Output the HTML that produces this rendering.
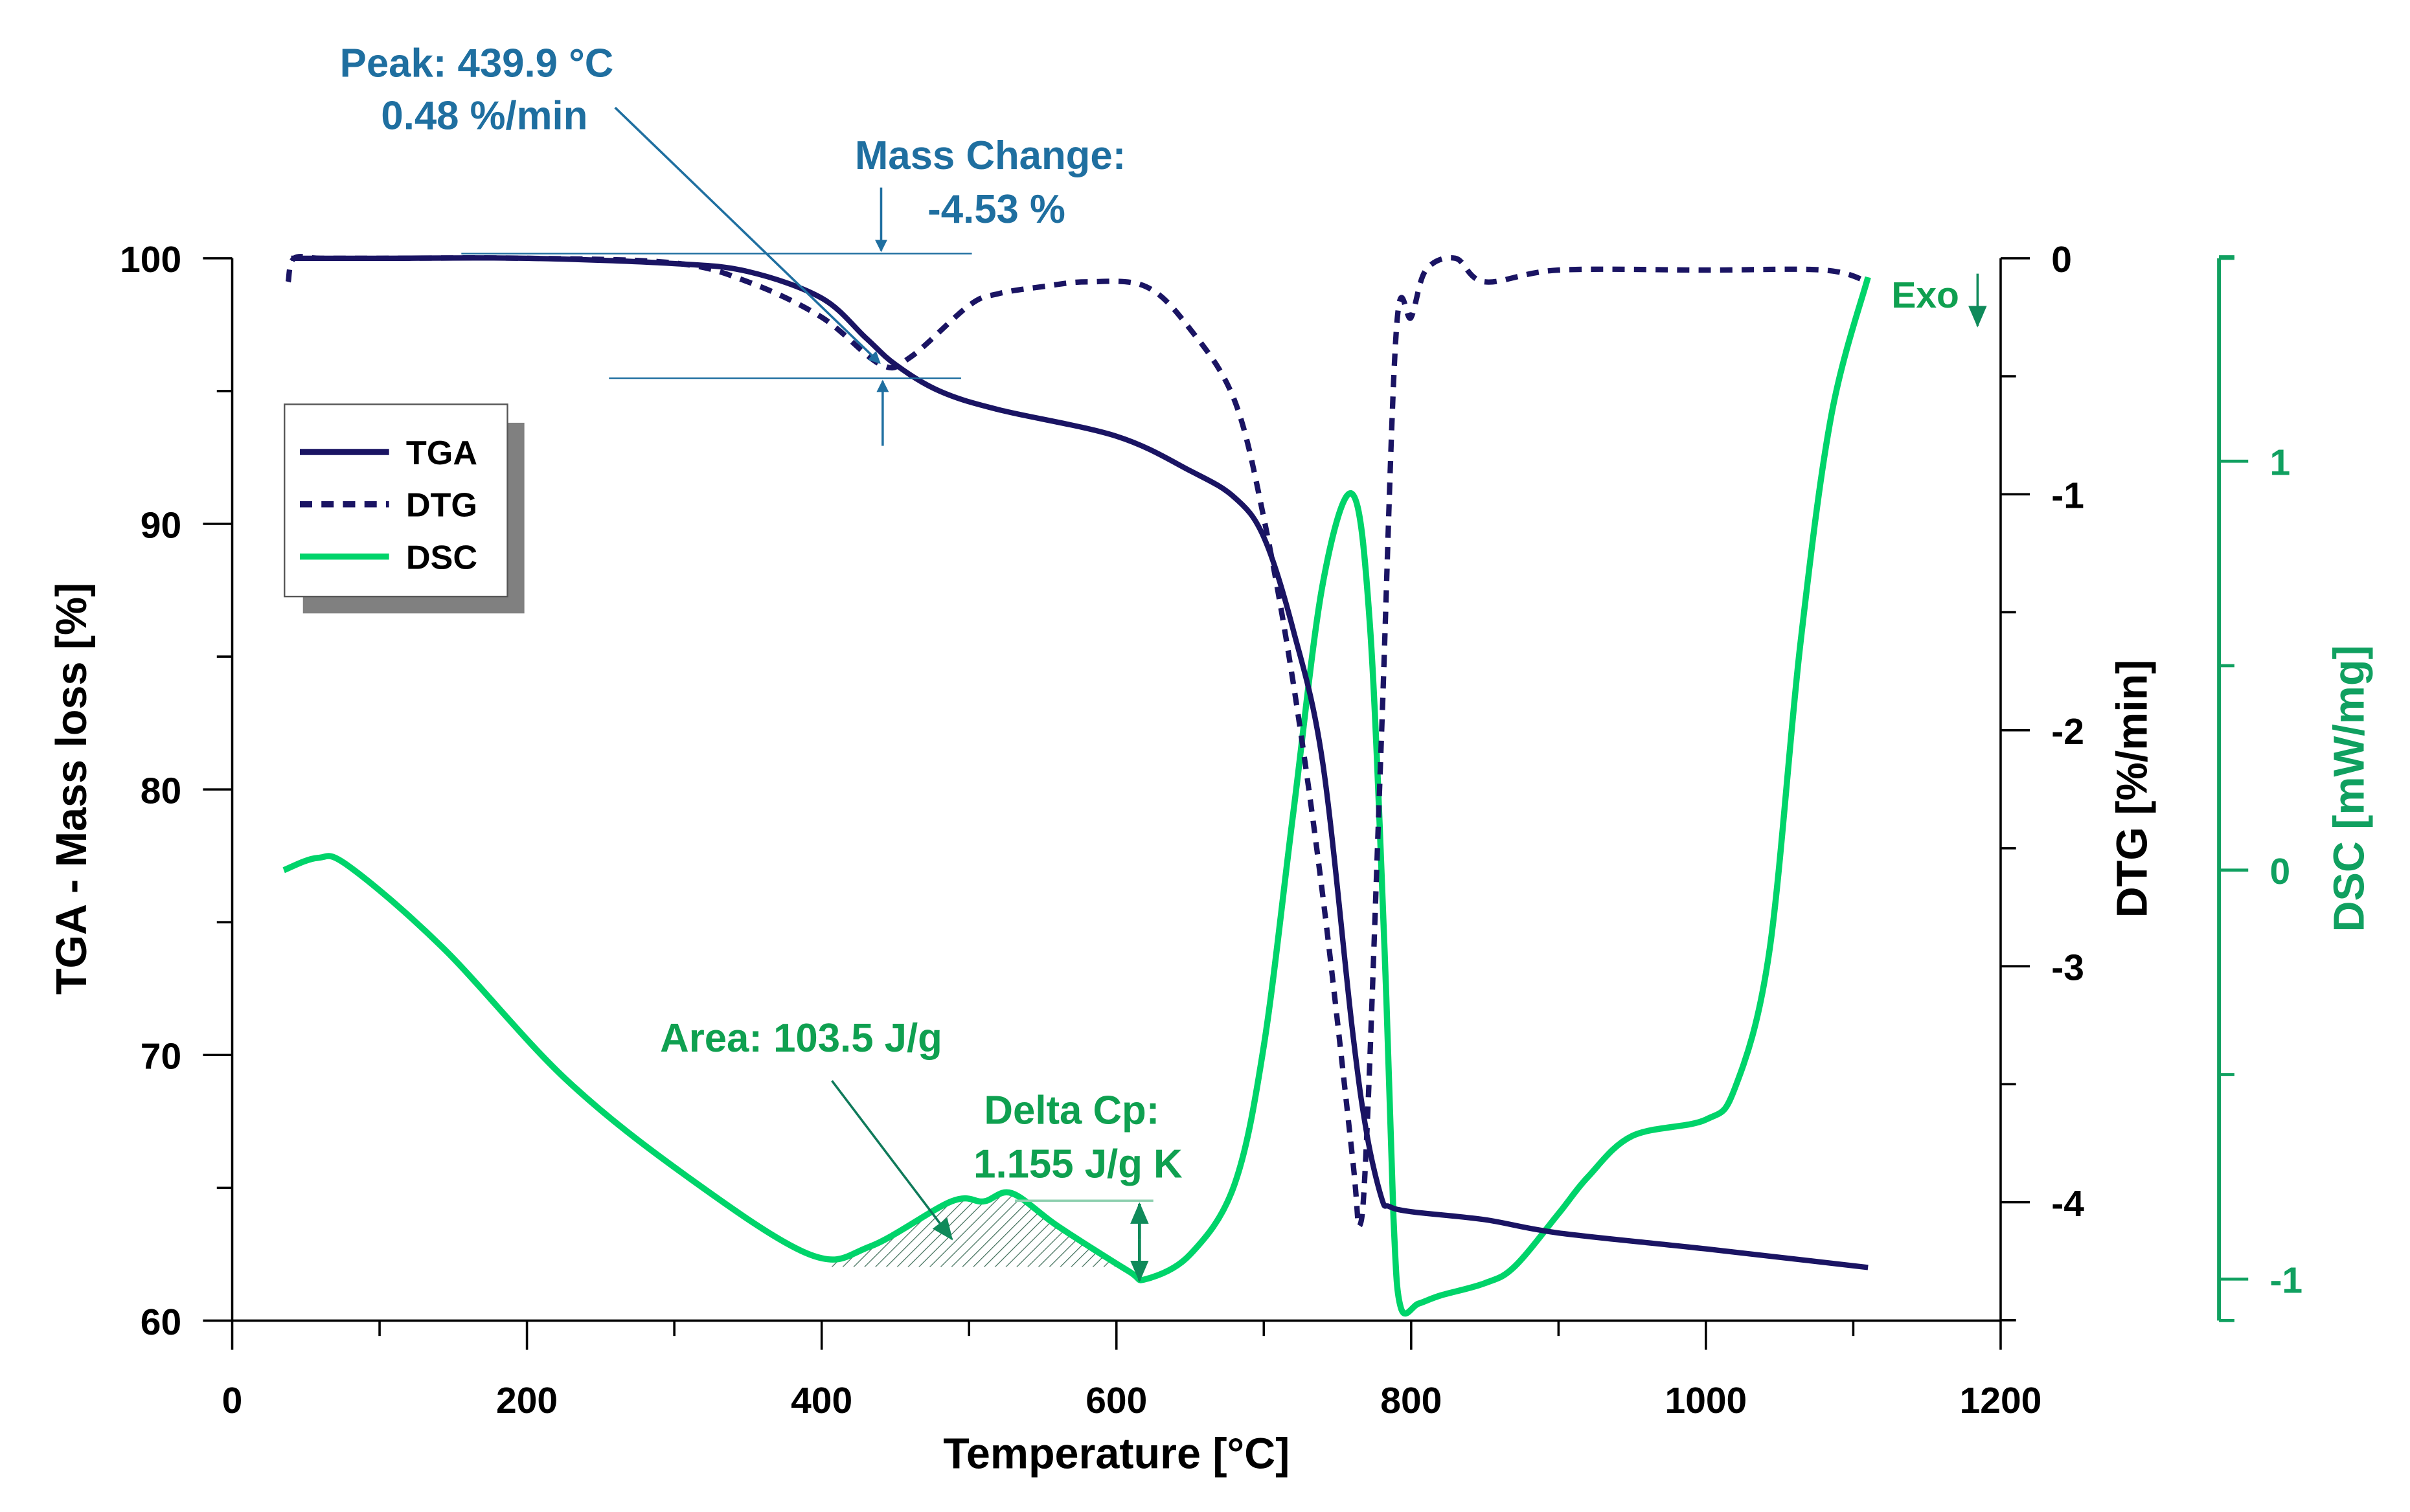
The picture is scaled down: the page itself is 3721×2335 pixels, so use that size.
<!DOCTYPE html>
<html><head><meta charset="utf-8"><style>
html,body{margin:0;padding:0;background:#fff}
svg{display:block}
text{font-family:"Liberation Sans",Arial,sans-serif;font-weight:bold}
</style></head><body>
<svg id="chart" xmlns="http://www.w3.org/2000/svg" width="3721" height="2335" viewBox="0 0 1567.2 983.5" preserveAspectRatio="none">
<defs>
<pattern id="hatch" patternUnits="userSpaceOnUse" width="5" height="5" patternTransform="rotate(45)">
<line x1="0" y1="0" x2="0" y2="5" stroke="#3a6a55" stroke-width="1"/>
</pattern>
<marker id="arB" markerWidth="8" markerHeight="8" refX="7" refY="4" orient="auto" markerUnits="userSpaceOnUse"><path d="M0,0 L8,4 L0,8z" fill="#1f6fa0"/></marker>
<marker id="arG" markerWidth="14" markerHeight="12" refX="13" refY="6" orient="auto" markerUnits="userSpaceOnUse"><path d="M0,0 L14,6 L0,12z" fill="#0f8a5a"/></marker>
</defs>
<g id="axes"></g>
<g id="series"></g>
<g id="annot">
<text x="310" y="50" font-size="26" fill="#1f6fa0" text-anchor="middle">Peak: 439.9 °C</text>
<text x="315" y="84" font-size="26" fill="#1f6fa0" text-anchor="middle">0.48 %/min</text>
<line x1="400" y1="70" x2="572" y2="236" stroke="#1f6fa0" stroke-width="1.5" marker-end="url(#arB)"/>
<text x="644" y="110" font-size="26" fill="#1f6fa0" text-anchor="middle">Mass Change:</text>
<text x="648" y="145" font-size="26" fill="#1f6fa0" text-anchor="middle">-4.53 %</text>
<line x1="300" y1="165" x2="632" y2="165" stroke="#1f6fa0" stroke-width="1"/>
<line x1="396" y1="246" x2="625" y2="246" stroke="#1f6fa0" stroke-width="1"/>
<line x1="573" y1="122" x2="573" y2="163" stroke="#1f6fa0" stroke-width="1.5" marker-end="url(#arB)"/>
<line x1="574" y1="290" x2="574" y2="248" stroke="#1f6fa0" stroke-width="1.5" marker-end="url(#arB)"/>
<text x="521" y="684" font-size="26" fill="#0fa050" text-anchor="middle">Area: 103.5 J/g</text>
<line x1="541" y1="703" x2="619" y2="806" stroke="#0f7a5a" stroke-width="1.5" marker-end="url(#arG)"/>
<text x="697" y="731" font-size="26" fill="#0fa050" text-anchor="middle">Delta Cp:</text>
<text x="701" y="766" font-size="26" fill="#0fa050" text-anchor="middle">1.155 J/g K</text>
<line x1="660" y1="781" x2="750" y2="781" stroke="#8fd0b0" stroke-width="1.5"/>
<line x1="741" y1="806" x2="741" y2="783" stroke="#0f8a5a" stroke-width="2" marker-end="url(#arG)"/>
<line x1="741" y1="806" x2="741" y2="833" stroke="#0f8a5a" stroke-width="2" marker-end="url(#arG)"/>
<text x="1252" y="200" font-size="24" fill="#0fa050" text-anchor="middle">Exo</text>
<line x1="1286" y1="178" x2="1286" y2="212" stroke="#0f8a5a" stroke-width="1.5" marker-end="url(#arG)"/>
</g>
<g id="legend">
<rect x="197" y="275" width="144" height="124" fill="#808080"/>
<rect x="185" y="263" width="145" height="125" fill="#fff" stroke="#555" stroke-width="1"/>
<line x1="195" y1="294" x2="253" y2="294" stroke="#1a1463" stroke-width="4"/>
<text x="264" y="302" font-size="22" fill="#000">TGA</text>
<line x1="195" y1="328" x2="253" y2="328" stroke="#1a1463" stroke-width="4" stroke-dasharray="8,6"/>
<text x="264" y="336" font-size="22" fill="#000">DTG</text>
<line x1="195" y1="362" x2="253" y2="362" stroke="#00d46a" stroke-width="4"/>
<text x="264" y="370" font-size="22" fill="#000">DSC</text>
</g>
</svg>
<script>
// data
const tgaT=[40,100,200,300,350,400,430,450,480,520,600,650,680,700,720,740,760,770,780,785,800,850,900,1000,1110];
const tgaV=[100,100,100,99.8,99.5,98.5,97,96,95,94.3,93.3,92,91,89.5,86,81,71,67,64.6,64.3,64.1,63.8,63.3,62.7,62];
const dtgT=[38,42,60,100,200,300,350,400,440,460,500,520,550,580,620,650,680,700,720,740,760,765,770,780,790,800,810,830,850,900,1000,1080,1110];
const dtgV=[-0.1,0,0,0,0,-0.02,-0.1,-0.25,-0.45,-0.42,-0.2,-0.15,-0.12,-0.1,-0.12,-0.3,-0.6,-1.1,-1.8,-2.7,-3.8,-4.1,-3.7,-2,-0.3,-0.25,-0.05,0,-0.1,-0.05,-0.05,-0.05,-0.1];
const dscT=[35,58,79,143,226,309,392,433,488,510,529,560,608,620,650,680,700,720,740,760,772,782,788,793,805,820,850,870,900,920,950,1000,1020,1043,1064,1085,1110];
const dscV=[0.0,0.03,0.01,-0.19,-0.51,-0.75,-0.94,-0.92,-0.81,-0.81,-0.79,-0.87,-0.98,-1.0,-0.94,-0.77,-0.43,0.14,0.70,0.92,0.6,-0.2,-0.85,-1.07,-1.06,-1.04,-1.01,-0.97,-0.84,-0.75,-0.65,-0.61,-0.53,-0.2,0.55,1.11,1.45];
const xTicks=[0,200,400,600,800,1000,1200];
const yTicks=[60,70,80,90,100];
const dtgTicks=[0,-1,-2,-3,-4];
const dscTicks=[1,0,-1];
// scales
const X=t=>151+t*(1150/1200);
const Y=v=>859-(v-60)*(691/40);
const YD=v=>168-v*(614/4);
const YS=v=>566-v*266;
const NS="http://www.w3.org/2000/svg";
const ax=document.getElementById('axes'),se=document.getElementById('series');
function mk(tag,attrs,parent){const e=document.createElementNS(NS,tag);for(const k in attrs)e.setAttribute(k,attrs[k]);parent.appendChild(e);return e;}
function smooth(pts){let d=`M${pts[0][0]},${pts[0][1]}`;for(let i=0;i<pts.length-1;i++){const p0=pts[i-1]||pts[i],p1=pts[i],p2=pts[i+1],p3=pts[i+2]||p2;const c1=[p1[0]+(p2[0]-p0[0])/6,p1[1]+(p2[1]-p0[1])/6],c2=[p2[0]-(p3[0]-p1[0])/6,p2[1]-(p3[1]-p1[1])/6];d+=` C${c1[0]},${c1[1]} ${c2[0]},${c2[1]} ${p2[0]},${p2[1]}`;}return d;}
let l;
l=mk('line',{x1:151,y1:168,x2:151,y2:859,stroke:'#000','stroke-width':1.5},ax);


l=mk('line',{x1:151,y1:859,x2:1301,y2:859,stroke:'#000','stroke-width':1.5},ax);


l=mk('line',{x1:1301,y1:168,x2:1301,y2:859,stroke:'#000','stroke-width':1.5},ax);


l=mk('line',{x1:1443,y1:168,x2:1443,y2:859,stroke:'#10a060','stroke-width':2.5},ax);


for(let i=0;i<xTicks.length;i++){const t=xTicks[i];mk('line',{x1:X(t),y1:859,x2:X(t),y2:878,stroke:'#000','stroke-width':1.5},ax);if(i<xTicks.length-1)mk('line',{x1:X(t+100),y1:859,x2:X(t+100),y2:869,stroke:'#000','stroke-width':1.5},ax);const tx=mk('text',{x:X(t),y:919,'font-size':24,'text-anchor':'middle'},ax);tx.textContent=t;

}
for(let i=0;i<yTicks.length;i++){const v=yTicks[i];mk('line',{x1:132,y1:Y(v),x2:151,y2:Y(v),stroke:'#000','stroke-width':1.5},ax);if(i<yTicks.length-1)mk('line',{x1:141,y1:Y(v+5),x2:151,y2:Y(v+5),stroke:'#000','stroke-width':1.5},ax);const tx=mk('text',{x:118,y:Y(v)+9,'font-size':24,'text-anchor':'end'},ax);tx.textContent=v;

}
for(let i=0;i<dtgTicks.length;i++){const v=dtgTicks[i];mk('line',{x1:1301,y1:YD(v),x2:1320,y2:YD(v),stroke:'#000','stroke-width':1.5},ax);mk('line',{x1:1301,y1:YD(v-0.5),x2:1311,y2:YD(v-0.5),stroke:'#000','stroke-width':1.5},ax);const tx=mk('text',{x:1334,y:YD(v)+9,'font-size':24},ax);tx.textContent=v;

}
for(let i=0;i<dscTicks.length;i++){const v=dscTicks[i];mk('line',{x1:1443,y1:YS(v),x2:1462,y2:YS(v),stroke:'#10a060','stroke-width':2},ax);mk('line',{x1:1443,y1:YS(v+0.5),x2:1453,y2:YS(v+0.5),stroke:'#10a060','stroke-width':2},ax);const tx=mk('text',{x:1476,y:YS(v)+9,'font-size':24,fill:'#10a060'},ax);tx.textContent=v;

}
mk('line',{x1:1443,y1:168,x2:1453,y2:168,stroke:'#10a060','stroke-width':2},ax);
mk('line',{x1:1443,y1:859,x2:1453,y2:859,stroke:'#10a060','stroke-width':2},ax);
let tt;
tt=mk('text',{x:726,y:955,'font-size':28,'text-anchor':'middle'},ax);tt.textContent='Temperature [°C]';


tt=mk('text',{x:0,y:0,'font-size':28,'text-anchor':'middle',transform:'translate(56,513) rotate(-90)'},ax);tt.textContent='TGA - Mass loss [%]';


tt=mk('text',{x:0,y:0,'font-size':28,'text-anchor':'middle',transform:'translate(1396,513) rotate(-90)'},ax);tt.textContent='DTG [%/min]';


tt=mk('text',{x:0,y:0,'font-size':28,'text-anchor':'middle',fill:'#10a060',transform:'translate(1537,513) rotate(-90)'},ax);tt.textContent='DSC [mW/mg]';


const hp=[];for(let i=0;i<dscT.length;i++){if(dscT[i]>=400&&dscT[i]<=608)hp.push([X(dscT[i]),YS(dscV[i])]);}
let h=mk('path',{d:smooth(hp)+` L${X(608)},${YS(-0.97)} L${X(400)},${YS(-0.97)}Z`,fill:'url(#hatch)'},se);


let p;
p=mk('path',{d:smooth(dscT.map((t,i)=>[X(t),YS(dscV[i])])),fill:'none',stroke:'#00d46a','stroke-width':4},se);


p=mk('path',{d:smooth(dtgT.map((t,i)=>[X(t),YD(dtgV[i])])),fill:'none',stroke:'#1a1463','stroke-width':3.5,'stroke-dasharray':'8,6'},se);


p=mk('path',{d:smooth(tgaT.map((t,i)=>[X(t),Y(tgaV[i])])),fill:'none',stroke:'#1a1463','stroke-width':3.5},se);


</script>
</body></html>
